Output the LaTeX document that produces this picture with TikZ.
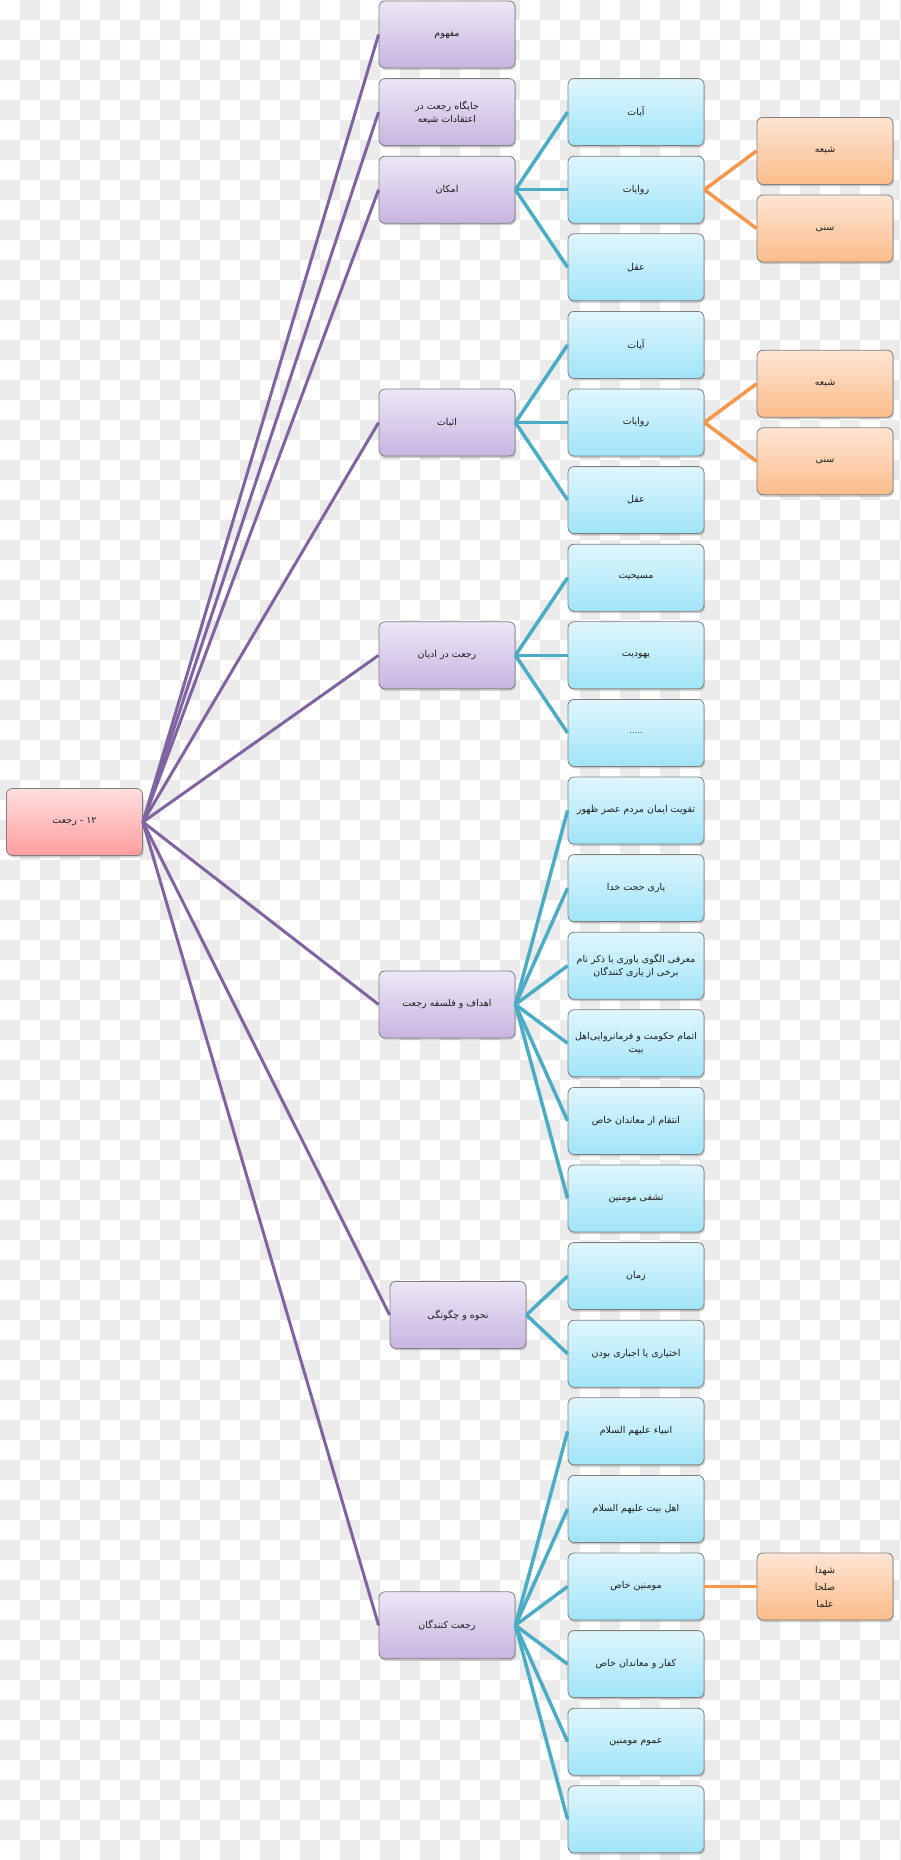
\documentclass[tikz,border=0pt]{standalone}
\usepackage{fontspec}
\newfontfamily\arabicfont[Script=Arabic]{DejaVu Sans}
\TeXXeTstate=1
\usetikzlibrary{shadows}
\newcommand\fa[1]{{\arabicfont\beginR #1\endR}}
\definecolor{checkgray}{RGB}{235,235,235}
\definecolor{boxborder}{RGB}{128,128,128}
\definecolor{textcol}{RGB}{30,30,30}
\definecolor{ptop}{RGB}{236,231,246}
\definecolor{pbot}{RGB}{199,181,224}
\definecolor{btop}{RGB}{224,246,253}
\definecolor{bbot}{RGB}{160,228,248}
\definecolor{otop}{RGB}{253,229,212}
\definecolor{obot}{RGB}{251,188,138}
\definecolor{rtop}{RGB}{255,222,222}
\definecolor{rbot}{RGB}{255,158,158}
\definecolor{plinec}{RGB}{128,100,162}
\definecolor{blinec}{RGB}{75,172,198}
\definecolor{olinec}{RGB}{247,150,70}
\tikzset{
  box/.style={rounded corners=6pt, draw=boxborder, line width=0.8pt,
    minimum width=136pt, minimum height=67pt, inner sep=2pt, align=center,
    font=\fontsize{9.5}{13}\selectfont, text=textcol,
    drop shadow={shadow xshift=1pt, shadow yshift=-2pt, opacity=0.3, fill=black!60}},
  rbox/.style={box, top color=rtop, bottom color=rbot},
  pbox/.style={box, top color=ptop, bottom color=pbot},
  bbox/.style={box, top color=btop, bottom color=bbot},
  obox/.style={box, top color=otop, bottom color=obot},
  pline/.style={draw=plinec, line width=3pt},
  bline/.style={draw=blinec, line width=3.5pt},
  oline/.style={draw=olinec, line width=3.5pt}
}
\begin{document}
\begin{tikzpicture}[x=1pt,y=-1pt]
\useasboundingbox (0,0) rectangle (900,1860);
\fill[white] (0,0) rectangle (900,1860);
\fill[checkgray] \foreach \r [evaluate=\r as \s using {int(mod(\r+1,2))}] in {0,...,92} {
  \foreach \c in {0,...,22} { ({(2*\c+\s)*20},{\r*20}) rectangle ++(20,20) } };

% root
\node[rbox] (root) at (74.5,822) {\fa{۱۲ - رجعت}};

% level 1
\node[pbox] (p1) at (447,34.5) {\fa{مفهوم}};
\node[pbox] (p2) at (447,112.1) {\fa{جایگاه رجعت در}\\\fa{اعتقادات شیعه}};
\node[pbox] (p3) at (447,189.7) {\fa{امکان}};
\node[pbox] (p4) at (447,422.5) {\fa{اثبات}};
\node[pbox] (p5) at (447,655.3) {\fa{رجعت در ادیان}};
\node[pbox] (p6) at (447,1004.5) {\fa{اهداف و فلسفه رجعت}};
\node[pbox] (p7) at (458,1314.9) {\fa{نحوه و  چگونگی}};
\node[pbox] (p8) at (447,1625.3) {\fa{رجعت کنندگان}};

% level 2
\node[bbox] (b1) at (636,112.1) {\fa{آیات}};
\node[bbox] (b2) at (636,189.7) {\fa{روایات}};
\node[bbox] (b3) at (636,267.3) {\fa{عقل}};
\node[bbox] (b4) at (636,344.9) {\fa{آیات}};
\node[bbox] (b5) at (636,422.5) {\fa{روایات}};
\node[bbox] (b6) at (636,500.1) {\fa{عقل}};
\node[bbox] (b7) at (636,577.7) {\fa{مسیحیت}};
\node[bbox] (b8) at (636,655.3) {\fa{یهودیت}};
\node[bbox] (b9) at (636,732.9) {.....};
\node[bbox] (b10) at (636,810.5) {\fa{تقویت ایمان مردم عصر ظهور}};
\node[bbox] (b11) at (636,888.1) {\fa{یاری حجت خدا}};
\node[bbox] (b12) at (636,965.7) {\fa{معرفی الگوی یاوری با ذکر نام}\\\fa{برخی از یاری کنندگان}};
\node[bbox] (b13) at (636,1043.3) {\fa{اتمام حکومت و   فرمانروایی‌اهل}\\\fa{بیت}};
\node[bbox] (b14) at (636,1120.9) {\fa{انتقام از معاندان خاص}};
\node[bbox] (b15) at (636,1198.5) {\fa{تشفی مومنین}};
\node[bbox] (b16) at (636,1276.1) {\fa{زمان}};
\node[bbox] (b17) at (636,1353.7) {\fa{اختیاری یا اجباری بودن}};
\node[bbox] (b18) at (636,1431.3) {\fa{انبیاء علیهم السلام}};
\node[bbox] (b19) at (636,1508.9) {\fa{اهل بیت علیهم السلام}};
\node[bbox] (b20) at (636,1586.5) {\fa{مومنین خاص}};
\node[bbox] (b21) at (636,1664.1) {\fa{کفار و معاندان خاص}};
\node[bbox] (b22) at (636,1741.7) {\fa{عموم مومنین}};
\node[bbox] (b23) at (636,1819.3) {};

% level 3
\node[obox] (o1) at (825,150.9) {\fa{شیعه}};
\node[obox] (o2) at (825,228.5) {\fa{سنی}};
\node[obox] (o3) at (825,383.7) {\fa{شیعه}};
\node[obox] (o4) at (825,461.3) {\fa{سنی}};
\node[obox, font=\fontsize{9.5}{17}\selectfont] (o5) at (825,1586.5) {\fa{شهدا}\\\fa{صلحا}\\\fa{علما}};

% connectors
\foreach \p in {p1,p2,p3,p4,p5,p6,p7,p8} \draw[pline] (root.east) -- (\p.west);
\foreach \b in {b1,b2,b3} \draw[bline] (p3.east) -- (\b.west);
\foreach \b in {b4,b5,b6} \draw[bline] (p4.east) -- (\b.west);
\foreach \b in {b7,b8,b9} \draw[bline] (p5.east) -- (\b.west);
\foreach \b in {b10,b11,b12,b13,b14,b15} \draw[bline] (p6.east) -- (\b.west);
\foreach \b in {b16,b17} \draw[bline] (p7.east) -- (\b.west);
\foreach \b in {b18,b19,b20,b21,b22,b23} \draw[bline] (p8.east) -- (\b.west);
\draw[oline] (b2.east) -- (o1.west);
\draw[oline] (b2.east) -- (o2.west);
\draw[oline] (b5.east) -- (o3.west);
\draw[oline] (b5.east) -- (o4.west);
\draw[oline] (b20.east) -- (o5.west);
\end{tikzpicture}
\end{document}
